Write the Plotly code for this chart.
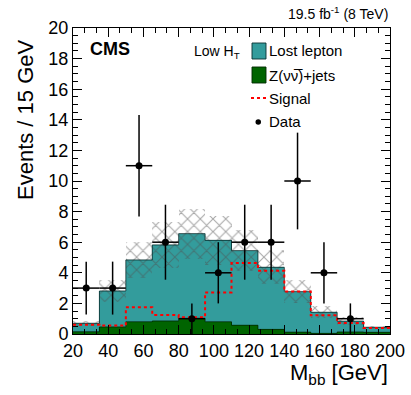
import plotly.graph_objects as go

# ---- data ----
bin_edges = [20, 35, 50, 65, 80, 95, 110, 125, 140, 155, 170, 185, 200]
z_nunu = [0.15, 0.46, 0.80, 0.85, 1.02, 0.80, 0.57, 0.30, 0.12, 0.04, 0.13, 0.11]
lost_lepton = [0.55, 2.35, 4.04, 4.97, 5.54, 5.32, 4.88, 4.06, 2.65, 1.38, 0.71, 0.33]
bkg_unc = [0.15, 0.72, 1.19, 1.50, 1.63, 1.59, 1.35, 1.11, 0.76, 0.39, 0.24, 0.10]
signal = [0.60, 0.55, 1.75, 1.25, 1.10, 2.72, 4.64, 4.14, 2.77, 1.22, 0.72, 0.40]
data = [3, 3, 11, 6, 1, 4, 6, 6, 10, 4, 1, 0]
data_err = [1.73, 1.73, 3.32, 2.45, 1.0, 2.0, 2.45, 2.45, 3.16, 2.0, 1.0, 0.0]
x_ticks = [20, 40, 60, 80, 100, 120, 140, 160, 180, 200]
y_ticks = [0, 2, 4, 6, 8, 10, 12, 14, 16, 18, 20]

centers = [(a + b) / 2 for a, b in zip(bin_edges[:-1], bin_edges[1:])]
widths = [b - a for a, b in zip(bin_edges[:-1], bin_edges[1:])]
total = [z + l for z, l in zip(z_nunu, lost_lepton)]

TEAL = "#339c9c"
GREEN = "#006400"
FONT = "Liberation Sans, Arial, Helvetica, sans-serif"

W, H = 411, 395
L, R, T, B = 73, 21, 28, 61


def px(x):
    return (x - L) / (W - L - R)


def py(y):
    return (H - B - y) / (H - T - B)


fig = go.Figure()

fig.add_trace(go.Bar(x=centers, y=z_nunu, width=widths, marker=dict(color=GREEN, line=dict(width=0)),
                     showlegend=False))
fig.add_trace(go.Bar(x=centers, y=lost_lepton, base=z_nunu, width=widths,
                     marker=dict(color=TEAL, line=dict(width=0)), showlegend=False))
fig.add_trace(go.Bar(x=centers, y=[2 * e for e in bkg_unc], base=[t - e for t, e in zip(total, bkg_unc)],
                     width=widths,
                     marker=dict(color="rgba(0,0,0,0)", line=dict(width=0),
                                 pattern=dict(shape="x", size=9, solidity=0.22, fgcolor="#505050",
                                              bgcolor="rgba(0,0,0,0)", fillmode="overlay")),
                     showlegend=False))

# step outlines
fig.add_trace(go.Scatter(x=bin_edges, y=z_nunu + [z_nunu[-1]], mode="lines", line_shape="hv",
                         line=dict(color="rgba(0,40,0,0.8)", width=1), showlegend=False))
fig.add_trace(go.Scatter(x=bin_edges, y=total + [total[-1]], mode="lines", line_shape="hv",
                         line=dict(color="rgba(10,50,50,0.85)", width=1), showlegend=False))
# signal
fig.add_trace(go.Scatter(x=bin_edges, y=signal + [signal[-1]], mode="lines", line_shape="hv",
                         line=dict(color="#ff0000", width=2, dash="dot"), showlegend=False))

# data
dx = [c for c, d in zip(centers, data) if d > 0]
dy = [d for d in data if d > 0]
de = [e for e, d in zip(data_err, data) if d > 0]
dw = [w / 2 for w, d in zip(widths, data) if d > 0]
fig.add_trace(go.Scatter(x=dx, y=dy, mode="markers",
                         marker=dict(color="black", size=7),
                         error_y=dict(type="data", array=de, color="black", thickness=1.5, width=0),
                         error_x=dict(type="data", array=dw, color="black", thickness=1.5, width=0),
                         showlegend=False))

axis_common = dict(showline=True, linecolor="black", linewidth=1, mirror="ticks", ticks="inside",
                   tickcolor="black", ticklen=9, tickwidth=1, showgrid=False, zeroline=False,
                   automargin=False,
                   tickfont=dict(family=FONT, size=18, color="black"))

fig.update_xaxes(range=[20, 200], tickvals=x_ticks,
                 minor=dict(ticks="inside", ticklen=5, dtick=20 / 3, tick0=20, tickcolor="black", showgrid=False),
                 **axis_common)
fig.update_yaxes(range=[0, 20], tickvals=y_ticks,
                 minor=dict(ticks="inside", ticklen=5, dtick=0.5, tickcolor="black", showgrid=False),
                 **axis_common)

ann = []
ann.append(dict(text="Events / 15 GeV", x=px(25), y=py(120), xref="paper", yref="paper",
                textangle=-90, showarrow=False, xanchor="center", yanchor="middle",
                font=dict(family=FONT, size=22, color="black")))
ann.append(dict(text="M<sub>bb</sub> [GeV]", x=1.0, y=py(374), xref="paper", yref="paper",
                showarrow=False, xanchor="right", yanchor="middle",
                font=dict(family=FONT, size=22, color="black")))
ann.append(dict(text="19.5 fb<sup>-1</sup> (8 TeV)", x=1.0, y=py(13), xref="paper", yref="paper",
                showarrow=False, xanchor="right", yanchor="middle",
                font=dict(family=FONT, size=14, color="black")))
ann.append(dict(text="<b>CMS</b>", x=px(88), y=py(49), xref="paper", yref="paper",
                showarrow=False, xanchor="left", yanchor="middle",
                font=dict(family=FONT, size=18, color="black")))
ann.append(dict(text="Low H<sub>T</sub>", x=px(192), y=py(52), xref="paper", yref="paper",
                showarrow=False, xanchor="left", yanchor="middle",
                font=dict(family=FONT, size=14, color="black")))

legend_labels = ["Lost lepton", "Z(\u03bd\u03bd\u0305)+jets", "Signal", "Data"]
legend_y = [51, 75, 98.5, 121.5]
for lab, yy in zip(legend_labels, legend_y):
    ann.append(dict(text=lab, x=px(267), y=py(yy), xref="paper", yref="paper",
                    showarrow=False, xanchor="left", yanchor="middle",
                    font=dict(family=FONT, size=15, color="black")))

shapes = [
    dict(type="rect", xref="paper", yref="paper", x0=px(252), x1=px(266), y0=py(43), y1=py(59),
         fillcolor=TEAL, line=dict(color="rgba(10,50,50,0.9)", width=1)),
    dict(type="rect", xref="paper", yref="paper", x0=px(252), x1=px(266), y0=py(67), y1=py(83),
         fillcolor=GREEN, line=dict(color="rgba(0,40,0,0.9)", width=1)),
    dict(type="line", xref="paper", yref="paper", x0=px(251), x1=px(266), y0=py(98), y1=py(98),
         line=dict(color="#ff0000", width=2, dash="dot")),
    dict(type="circle", xref="paper", yref="paper", x0=px(255.5), x1=px(261), y0=py(119.2), y1=py(124.7),
         fillcolor="black", line=dict(color="black", width=0)),
]

fig.update_layout(width=W, height=H, margin=dict(l=L, r=R, t=T, b=B),
                  plot_bgcolor="white", paper_bgcolor="white", barmode="overlay", bargap=0,
                  annotations=ann, shapes=shapes, showlegend=False)

fig.write_html("out.html", config={"displayModeBar": False},
               post_script="document.body.style.margin='0';document.body.style.padding='0';")
